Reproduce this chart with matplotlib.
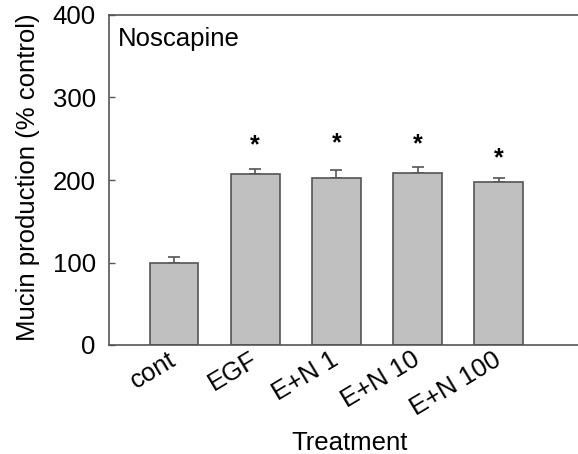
import matplotlib
matplotlib.use("Agg")
import matplotlib.pyplot as plt

# values
treatments = ["cont", "EGF", "E+N 1", "E+N 10", "E+N 100"]
mucin = [99, 207, 202, 209, 198]
sem = [8, 6, 10, 7, 5]
star_y = [None, 242, 244, 243, 226]

plt.rcParams["font.family"] = ["Liberation Sans", "DejaVu Sans"]
fs = 18.5

fig = plt.figure(figsize=(5.78, 4.54), dpi=100)
W, H = 578, 454
ax = fig.add_axes([109 / W, 1 - 345 / H, (580 - 109) / W, (345 - 15) / H])

edge = "#555555"
x = list(range(len(treatments)))
ax.bar(x, mucin, width=0.6, color="#c0c0c0", edgecolor=edge, linewidth=1.2, zorder=2)
ax.errorbar(x, mucin, yerr=[[0] * len(sem), sem], fmt="none", ecolor=edge,
            elinewidth=1.2, capsize=4, capthick=1.2, zorder=1)

for xi, sy in zip(x, star_y):
    if sy is not None:
        ax.text(xi, sy, "*", ha="center", va="center", fontsize=18, fontweight="bold")

ax.set_xlim(-0.8, 5.0)
ax.set_ylim(0, 400)
ax.set_yticks([0, 100, 200, 300, 400])
ax.tick_params(axis="y", direction="in", length=4, width=1, color=edge, labelsize=fs, pad=9.5)
ax.tick_params(axis="x", length=0, labelsize=fs, pad=9)
ax.set_xticks(x)
ax.set_xticklabels(treatments, rotation=31, ha="right", va="center", rotation_mode="anchor")

for side in ["left", "top", "bottom"]:
    ax.spines[side].set_color(edge)
    ax.spines[side].set_linewidth(1.2)
ax.spines["right"].set_visible(False)

ax.text((118 - 109) / (580 - 109), 1 - (46 - 15) / (345 - 15), "Noscapine",
        transform=ax.transAxes, fontsize=fs, va="baseline", ha="left")

ax.set_ylabel("Mucin production (% control)", fontsize=fs)
ax.yaxis.set_label_coords(-(109 - 40) / (580 - 109), (345 - 177) / (345 - 15))
ax.set_xlabel("Treatment", fontsize=fs, va="baseline")
ax.xaxis.set_label_coords((350 - 109) / (580 - 109), -(450 - 345) / (345 - 15))

fig.savefig("out.png", dpi=100)
